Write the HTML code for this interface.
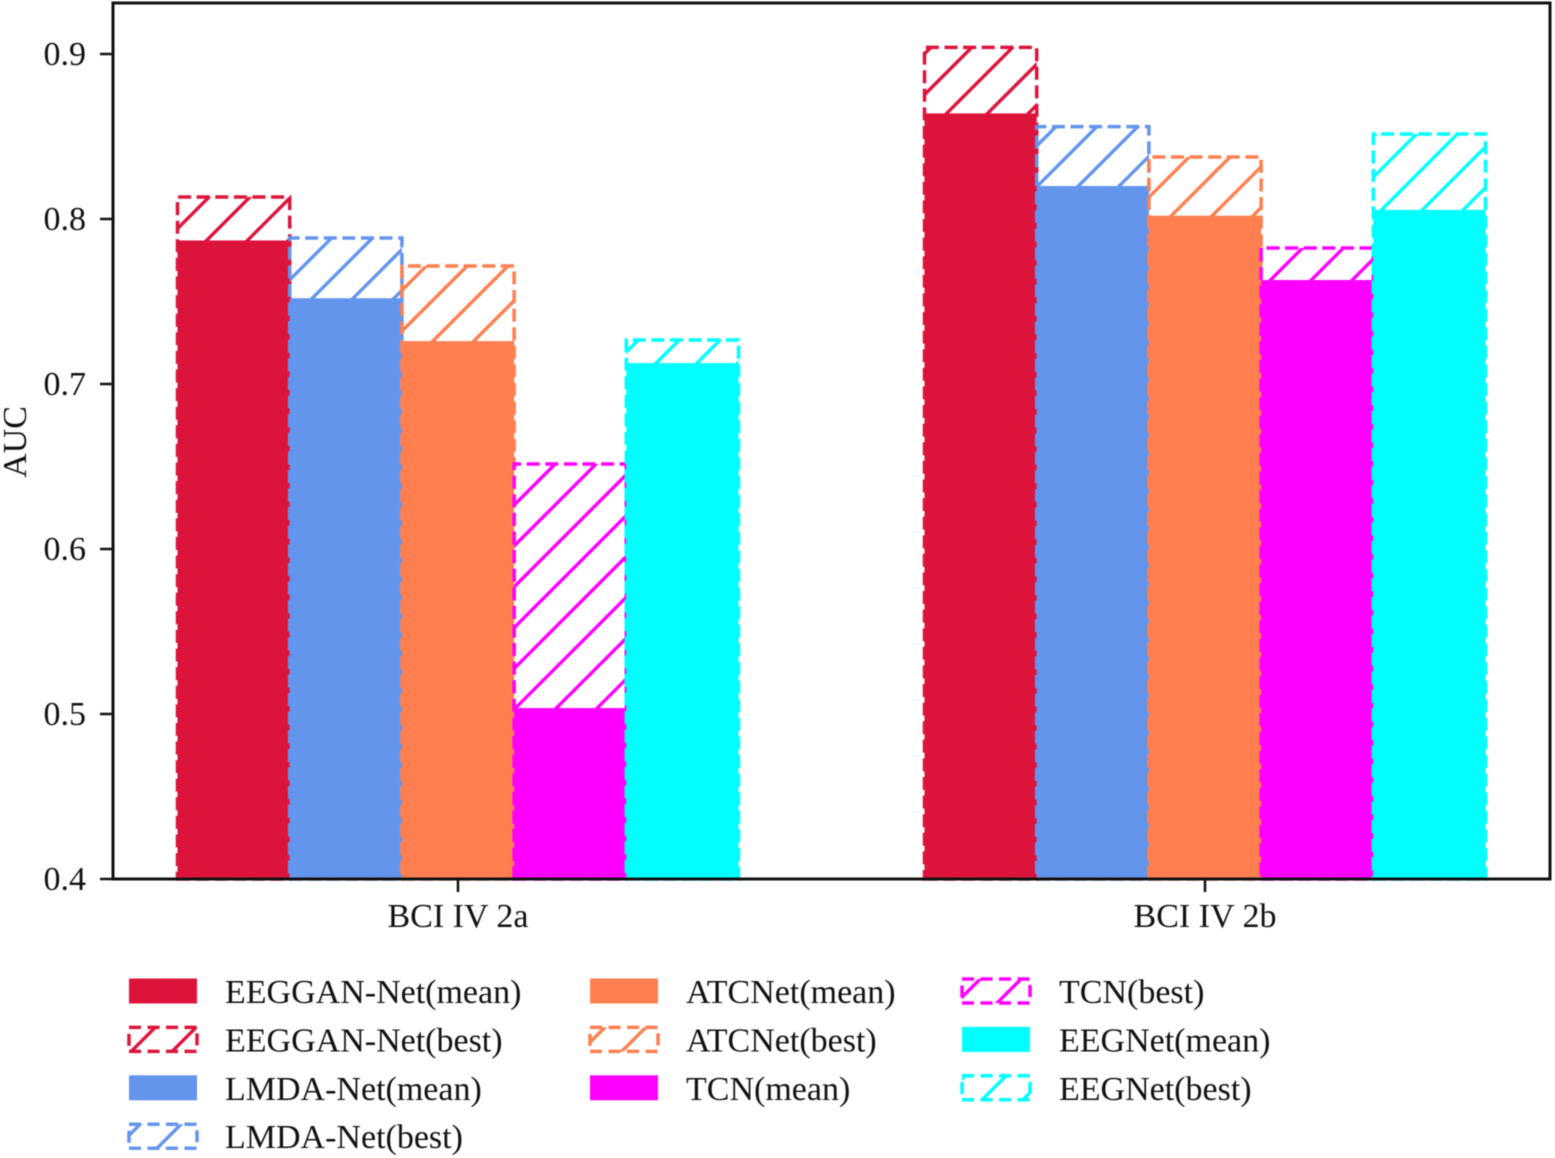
<!DOCTYPE html>
<html lang="en">
<head>
<meta charset="utf-8">
<title>AUC comparison</title>
<style>
html,body{margin:0;padding:0;background:#fff;}
svg{display:block;filter:blur(0.4px);}
text{font-family:"Liberation Serif",serif;fill:#111;font-size:34px;}
</style>
</head>
<body>
<svg id="chart" xmlns="http://www.w3.org/2000/svg" width="1555" height="1158" viewBox="0 0 1555 1158"></svg>
<script>
const categories = ['BCI IV 2a', 'BCI IV 2b'];
const models = ['EEGGAN-Net', 'LMDA-Net', 'ATCNet', 'TCN', 'EEGNet'];
const meanEEGGAN = [0.787, 0.864];
const bestEEGGAN = [0.8133, 0.904];
const meanLMDA = [0.752, 0.82];
const bestLMDA = [0.7885, 0.856];
const meanATC = [0.726, 0.802];
const bestATC = [0.7715, 0.8376];
const meanTCN = [0.5036, 0.763];
const bestTCN = [0.6515, 0.7824];
const meanEEGNet = [0.7127, 0.8055];
const bestEEGNet = [0.7267, 0.8515];
const yTicks = [0.4, 0.5, 0.6, 0.7, 0.8, 0.9];
const yTitle = 'AUC';

const meanSeries = [meanEEGGAN, meanLMDA, meanATC, meanTCN, meanEEGNet];
const bestSeries = [bestEEGGAN, bestLMDA, bestATC, bestTCN, bestEEGNet];
const colors = ['#DC143C', '#6495ED', '#FF7F50', '#FF00FF', '#00FFFF'];

const svg = document.getElementById('chart');
const NS = 'http://www.w3.org/2000/svg';
function make(tag, attrs, parent) {
  const el = document.createElementNS(NS, tag);
  for (const k in attrs) el.setAttribute(k, attrs[k]);
  (parent || svg).appendChild(el);
  return el;
}
const plot = {left: 113, right: 1550, top: 3, bottom: 879};
const yScale = v => 879 - (v - 0.4) * 1650;
const groupCenter = i => 458 + i * 747;
const barW = 112.2;
const barX = (g, s) => groupCenter(g) + (s - 2.5) * barW;

const defs = make('defs', {});
const HATCH_STEP = 40.87;
const HATCH_PHASE = 447;
let clipCount = 0;

function drawHatched(x0, y0, x1, y1, color, dash) {
  const id = 'clip' + (clipCount++);
  const cp = make('clipPath', {id: id}, defs);
  make('rect', {x: x0, y: y0, width: x1 - x0, height: y1 - y0}, cp);
  const g = make('g', {'clip-path': 'url(#' + id + ')'});
  const kStart = Math.ceil((x0 + y0 - HATCH_PHASE) / HATCH_STEP);
  const kEnd = Math.floor((x1 + y1 - HATCH_PHASE) / HATCH_STEP);
  for (let k = kStart; k <= kEnd; k++) {
    const sum = HATCH_PHASE + k * HATCH_STEP;
    make('line', {x1: x0 - 5, y1: sum - x0 + 5, x2: x1 + 5, y2: sum - x1 - 5, stroke: color, 'stroke-width': 3.4}, g);
  }
  return make('path', {
    d: 'M' + x0 + ' ' + y1 + 'H' + x1 + 'V' + y0 + 'H' + x0 + 'Z',
    fill: 'none', stroke: color, 'stroke-width': 3.5, 'stroke-dasharray': dash
  });
}

categories.forEach((cat, g) => {
  models.forEach((m, s) => {
    const x = barX(g, s);
    const yb = yScale(bestSeries[s][g]);
    const best = drawHatched(x, yb, x + barW, plot.bottom, colors[s], '13 5.6');
    
    
    const ym = yScale(meanSeries[s][g]);
    const mean = make('rect', {x: x, y: ym, width: barW, height: plot.bottom - ym, fill: colors[s]});
    
    
  });
});

const frame = make('rect', {x: plot.left, y: plot.top, width: plot.right - plot.left, height: plot.bottom - plot.top, fill: 'none', stroke: '#111', 'stroke-width': 3});



yTicks.forEach(t => {
  const y = yScale(t);
  const tick = make('line', {x1: 100, x2: plot.left, y1: y, y2: y, stroke: '#111', 'stroke-width': 2.5});
  
  
  const label = make('text', {x: 86, y: y + 11, 'text-anchor': 'end'});
  label.textContent = t.toFixed(1);
  
  
});

categories.forEach((cat, g) => {
  const x = groupCenter(g);
  const tick = make('line', {x1: x, x2: x, y1: plot.bottom, y2: 892, stroke: '#111', 'stroke-width': 2.5});
  
  
  const label = make('text', {x: x, y: 927, 'text-anchor': 'middle'});
  label.textContent = cat;
  
  
});

const title = make('text', {x: 0, y: 0, 'text-anchor': 'middle', transform: 'translate(26 442) rotate(-90)'});
title.textContent = yTitle;



const legendCols = [{sw: 129, tx: 225, n: 4}, {sw: 590, tx: 686, n: 3}, {sw: 962, tx: 1059, n: 3}];
const rowY = r => 991 + r * 48.4;
const legendItems = [];
models.forEach((m, s) => {
  legendItems.push({label: m + '(mean)', s: s, best: false});
  legendItems.push({label: m + '(best)', s: s, best: true});
});
let idx = 0;
legendCols.forEach(col => {
  for (let r = 0; r < col.n; r++, idx++) {
    const item = legendItems[idx];
    const cy = rowY(r);
    const swatch = item.best
      ? drawHatched(col.sw, cy - 12, col.sw + 68, cy + 12, colors[item.s], '12 6.5')
      : make('rect', {x: col.sw, y: cy - 12.5, width: 68, height: 25, fill: colors[item.s]});
    
    
    const text = make('text', {x: col.tx, y: cy + 12});
    text.textContent = item.label;
    
    
  }
});
</script>
</body>
</html>
